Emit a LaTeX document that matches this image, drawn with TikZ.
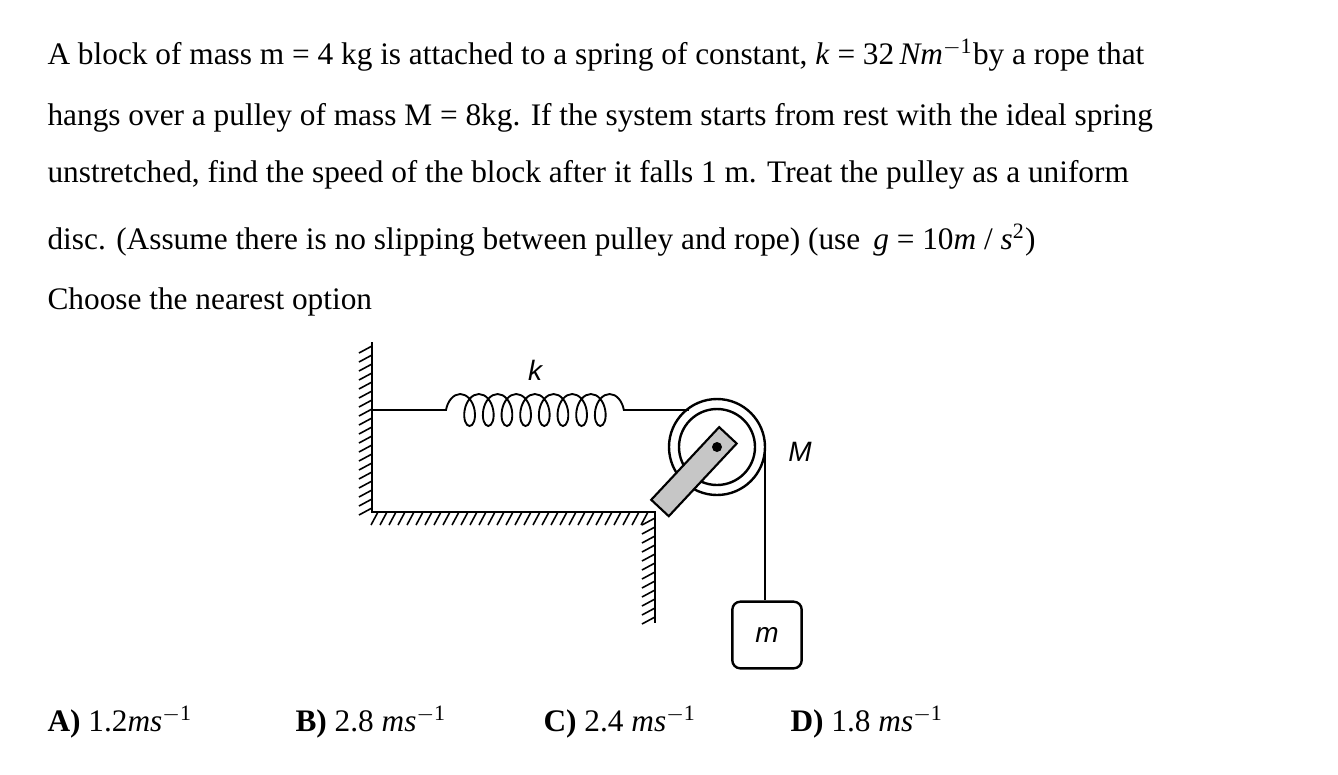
\documentclass[tikz,border=0pt]{standalone}
\usepackage{fontspec}
\setmainfont{Liberation Serif}
\setsansfont{Liberation Sans}
\usetikzlibrary{positioning,calc,decorations.pathmorphing}

\begin{document}
\begin{tikzpicture}[
	x=0.375pt, y=-0.375pt,
	txt/.style = {anchor=west, inner sep=0pt, font=\fontsize{11.75}{13}\selectfont},
	lbl/.style = {inner sep=0pt, font=\sffamily\itshape\fontsize{10.5}{11}\selectfont},
	wall/.style = {line width=1pt},
	hatch/.style = {line width=0.6pt},
	rope/.style = {line width=0.7pt}
]
\useasboundingbox (0,0) rectangle (1338,774);

% question text
\node (q1) [txt] at (47,55)  {A block of mass m = 4 kg is attached to a spring of constant, \textit{k} = 32\,\textit{Nm}\textsuperscript{$-$1}by a rope that};
\node (q2) [txt] at (47,118) {hangs over a pulley of mass M = 8kg. If the system starts from rest with the ideal spring};
\node (q3) [txt] at (47,175) {unstretched, find the speed of the block after it falls 1 m. Treat the pulley as a uniform};
\node (q4) [txt] at (47,240) {disc. (Assume there is no slipping between pulley and rope) (use \,\textit{g} = 10\textit{m} / \textit{s}\textsuperscript{2})};
\node (q5) [txt] at (47,302) {Choose the nearest option};

% walls
\draw[wall] (372,342) -- (372,512) -- (655,512) -- (655,623);
\foreach \y in {346,355,...,508}
	\draw[hatch] (372,\y) -- (359,\y+7);
\foreach \x in {378,387,...,650}
	\draw[hatch] (\x,512) -- (\x-7,525);
\foreach \y in {518,527,...,620}
	\draw[hatch] (655,\y) -- (642,\y+7);

% pulley
\coordinate (axle) at (717,447);
\coordinate (tip) at ($(axle)!-6pt!(660,508)$);
\coordinate (base) at (660,508);
\draw[line width=0.9pt] (axle) circle[radius=48];
\draw[line width=0.9pt] (axle) circle[radius=38];
\fill[gray!45, draw=black, line width=0.8pt]
	($(tip)!4.5pt!90:(base)$) -- ($(tip)!4.5pt!-90:(base)$)
	-- ($(base)!4.5pt!90:(tip)$) -- ($(base)!4.5pt!-90:(tip)$) -- cycle;
\fill (axle) circle[radius=5];

% spring and ropes
\coordinate (wl) at (372,410);
\coordinate (s1) at (438,410);
\coordinate (s2) at (635,410);
\coordinate (pt) at (689,410);
\draw[rope] (wl) -- (s1);
\draw[rope, decoration={coil, segment length=7pt, amplitude=6pt, aspect=0.6, pre length=3pt, post length=3pt}, decorate]
	(s1) -- (s2);
\draw[rope] (s2) -- (pt);
\coordinate (pr) at (765,447);
\node (blk) [draw, rounded corners=3pt, line width=0.9pt, minimum width=26pt, minimum height=25pt, lbl] at (767,635) {m};
\draw[rope] (pr) -- (blk.north -| pr);

\node (k) [lbl] at (535,370) {k};
\node (M) [lbl] at (800,452) {M};

% options
\node (oa) [txt] at (47,722)  {\textbf{A)} 1.2\textit{ms}\textsuperscript{$-$1}};
\node (ob) [txt] at (295,722) {\textbf{B)} 2.8 \textit{ms}\textsuperscript{$-$1}};
\node (oc) [txt] at (543,722) {\textbf{C)} 2.4 \textit{ms}\textsuperscript{$-$1}};
\node (od) [txt] at (790,722) {\textbf{D)} 1.8 \textit{ms}\textsuperscript{$-$1}};
\end{tikzpicture}
\end{document}
